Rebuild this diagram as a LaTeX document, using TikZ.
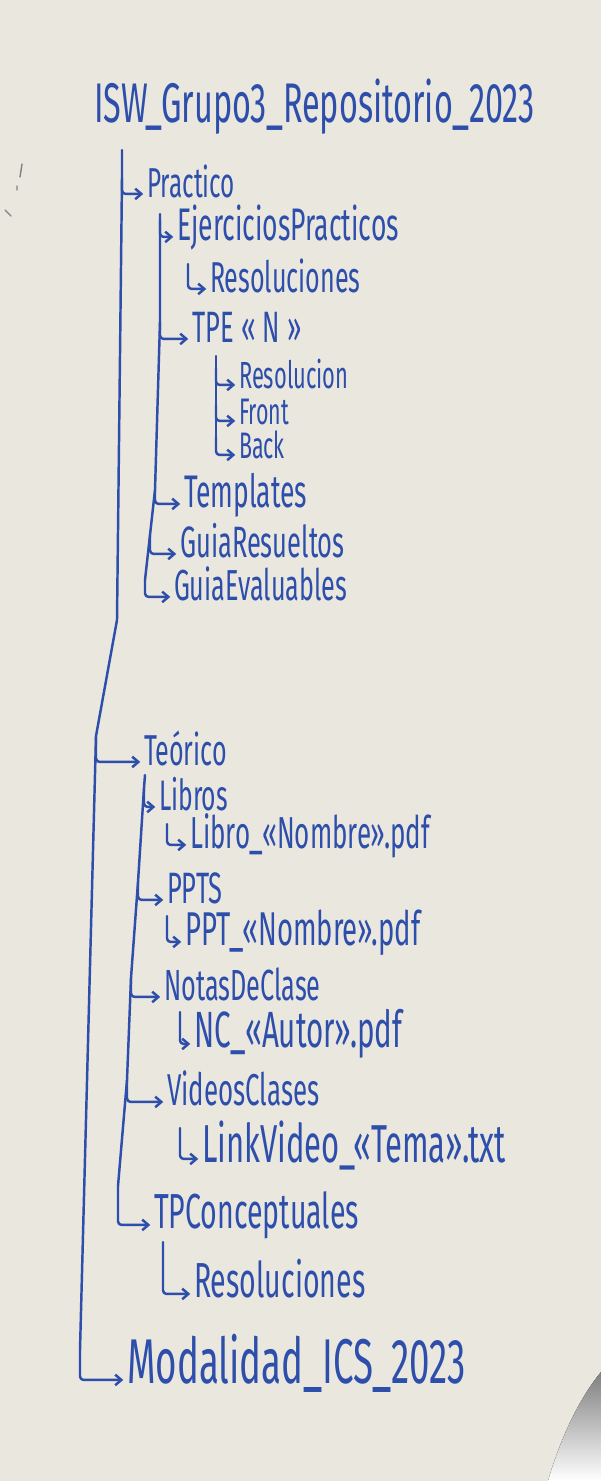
\documentclass[tikz,border=0pt]{standalone}
\usepackage{fontspec}
\usepackage{xcolor}
\usepackage{tikz}
\usetikzlibrary{arrows.meta,calc}
\newfontfamily\handfont[FakeStretch=0.58]{Fira Sans}
\definecolor{marker}{RGB}{45,78,170}
\definecolor{board}{RGB}{234,231,223}
\definecolor{shade}{RGB}{128,128,126}

\begin{document}
\begin{tikzpicture}[
    x=0.02cm, y=-0.02cm,
    folder/.style={anchor=base west, inner sep=1pt, text=marker, text height=0.5em, text depth=0.15em, font=\handfont\fontsize{#1}{#1}\selectfont},
    folder/.default=24,
    branch/.style={draw=marker, line width=1.4pt, line cap=round, line join=round},
    link/.style={branch, rounded corners=2pt, -{Straight Barb[length=3.5pt,width=6pt]}, shorten >=1pt},
]
    % Board
    \useasboundingbox (0,0) rectangle (601,1481);
    \fill[board] (0,0) rectangle (601,1481);
    \fill[shade] (601,1372) .. controls (578,1400) and (560,1440) .. (548,1481) -- (601,1481) -- cycle;
    \draw[gray, line width=0.8pt, line cap=round] (22,164) -- (20,177) (17,186) -- (17,190) (5,210) -- (11,216);

    % Root
    \node[folder=31.8] (repo) at (92,122) {ISW\_Grupo3\_Repositorio\_2023};

    % Practico
    \node[folder=23.8] (prac) at (145,197) {Practico};
    \node[folder=26] (ejer) at (175,240) {EjerciciosPracticos};
    \node[folder=24.6] (resA) at (208,292) {Resoluciones};
    \node[folder=25] (tpe) at (190,342) {TPE\,«\,N\,»};
    \node[folder=21.5] (reso) at (237,388) {Resolucion};
    \node[folder=21] (front) at (237,424) {Front};
    \node[folder=21] (back) at (237,458) {Back};
    \node[folder=26] (tmpl) at (182,507) {Templates};
    \node[folder=25] (gres) at (178,557) {GuiaResueltos};
    \node[folder=24.7] (geva) at (172,600) {GuiaEvaluables};

    % Teorico
    \node[folder=24.6] (teo) at (142,765) {Teórico};
    \node[folder=24.3] (libros) at (157,810) {Libros};
    \node[folder=25.5] (libro) at (188,848) {Libro\_«Nombre».pdf};
    \node[folder=25] (ppts) at (165,903) {PPTS};
    \node[folder=27] (ppt) at (183,945) {PPT\_«Nombre».pdf};
    \node[folder=24.8] (notas) at (162,1000) {NotasDeClase};
    \node[folder=29] (nc) at (192,1047) {NC\_«Autor».pdf};
    \node[folder=25.4] (videos) at (165,1105) {VideosClases};
    \node[folder=30.4] (link) at (200,1162) {LinkVideo\_«Tema».txt};
    \node[folder=28] (tpc) at (152,1228) {TPConceptuales};
    \node[folder=28] (resB) at (192,1297) {Resoluciones};

    % Modalidad
    \node[folder=36] (moda) at (125,1383) {Modalidad\_ICS\_2023};

    % Trunk points
    \coordinate (m0) at (122,150);
    \coordinate (m1) at (122,178);
    \coordinate (m2) at (96,736);
    \coordinate (m3) at (80,1350);
    \coordinate (p0) at (160,214);
    \coordinate (p1) at (160,220);
    \coordinate (p2) at (160,322);
    \coordinate (p3) at (155,490);
    \coordinate (p4) at (150,535);
    \coordinate (p5) at (145,580);
    \coordinate (e0) at (188,264);
    \coordinate (t0) at (216,356);
    \coordinate (t1) at (216,368);
    \coordinate (t2) at (216,405);
    \coordinate (t3) at (216,437);
    \coordinate (o0) at (145,775);
    \coordinate (o1) at (144,788);
    \coordinate (o2) at (138,882);
    \coordinate (o3) at (131,978);
    \coordinate (o4) at (127,1080);
    \coordinate (o5) at (118,1186);

    % Trunks
    \draw[branch] (m0) -- (m1) -- (117,620) -- (m2) -- (m3);
    \draw[branch] (p0) -- (p1) -- (p2) -- (p3) -- (p4) -- (p5);
    \draw[branch] (t0) -- (t1) -- (t2) -- (t3);
    \draw[branch] (o0) -- (o1) -- (o2) -- (o3) -- (o4) -- (o5);

    % Edges
    \draw[link] (m1) |- (prac.west);
    \draw[link] (m2) |- (teo.west);
    \draw[link] (m3) |- (moda.west);
    \draw[link] (p1) |- (ejer.west);
    \draw[link] (e0) |- (resA.west);
    \draw[link] (p2) |- (tpe.west);
    \draw[link] (t1) |- (reso.west);
    \draw[link] (t2) |- (front.west);
    \draw[link] (t3) |- (back.west);
    \draw[link] (p3) |- (tmpl.west);
    \draw[link] (p4) |- (gres.west);
    \draw[link] (p5) |- (geva.west);
    \draw[link] (o1) |- (libros.west);
    \draw[link] (167,824) |- (libro.west);
    \draw[link] (o2) |- (ppts.west);
    \draw[link] (167,916) |- (ppt.west);
    \draw[link] (o3) |- (notas.west);
    \draw[link] (180,1012) |- (nc.west);
    \draw[link] (o4) |- (videos.west);
    \draw[link] (180,1128) |- (link.west);
    \draw[link] (o5) |- (tpc.west);
    \draw[link] (163,1242) |- (resB.west);

\end{tikzpicture}
\end{document}
